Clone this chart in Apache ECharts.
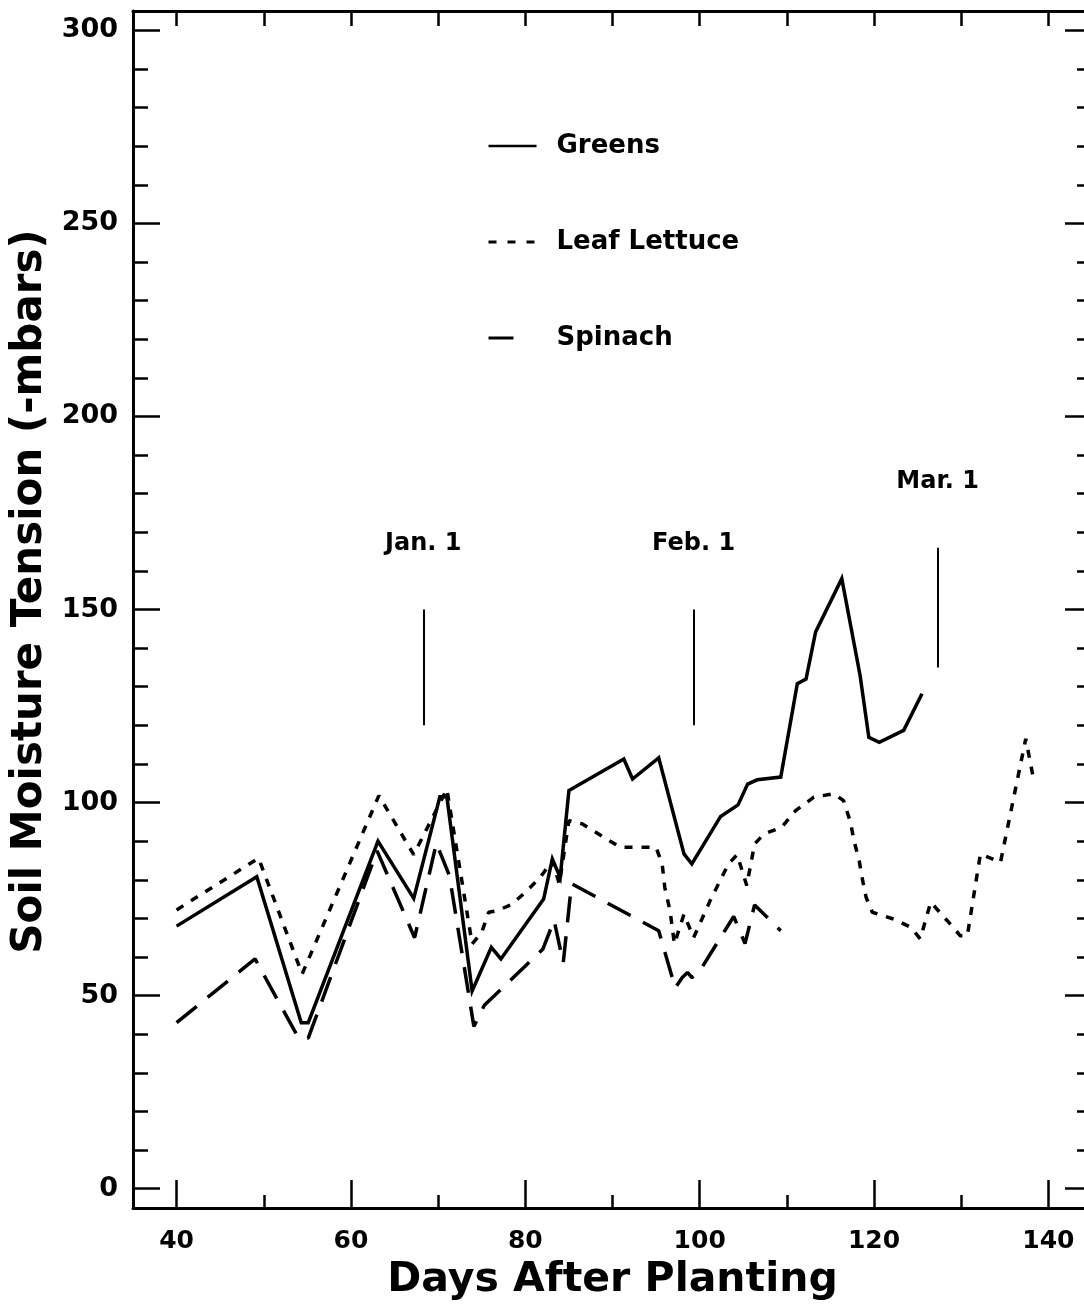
<!DOCTYPE html>
<html>
<head>
<meta charset="utf-8">
<script src="https://cdn.jsdelivr.net/npm/echarts@6/dist/echarts.min.js"></script>
<style>
html,body{margin:0;padding:0;background:#fff;overflow:hidden;}
#chart{width:1100px;height:1311px;}
</style>
</head>
<body>
<div id="chart"></div>
<script>
// ---- Data (day after planting, soil moisture tension -mbars) ----
const greens = [
  [40, 68], [49.2, 80.8], [54.3, 43], [55.1, 43], [63.1, 90], [67.2, 75.2],
  [70.2, 101.5], [71, 101.5], [73.9, 51.2], [76.1, 62.5], [77.2, 59.5],
  [82.1, 75], [83.1, 85.4], [84.0, 80.6], [85.0, 103.1], [91.3, 111.3],
  [92.3, 106.1], [95.3, 111.6], [98.2, 86.7], [99.1, 84.1], [102.4, 96.4],
  [104.4, 99.4], [105.5, 104.8], [106.6, 105.9], [109.3, 106.6], [111.2, 130.8],
  [112.2, 132], [113.3, 144.2], [116.3, 158], [118.4, 132.9], [119.4, 116.9],
  [120.6, 115.6], [123.4, 118.7], [125.5, 128.2]
];
const leafLettuce = [
  [40, 72.2], [49.4, 85.6], [54.4, 55.6], [63.2, 101.8], [67.2, 86.5], [71, 103.5],
  [73.9, 63.4], [75, 66.4], [75.8, 71.6], [76.8, 72], [78.5, 73.7], [80.2, 77.2],
  [81.7, 80.6], [83.1, 85], [83.9, 78.9], [85, 95.3], [86.5, 94.5], [90.9, 88.4],
  [95, 88.4], [95.7, 84], [96.0, 78], [96.6, 72], [97.1, 63.4], [98.2, 71.1],
  [99.3, 65], [101.2, 74.6], [103.3, 84.1], [104.3, 86.5], [105.4, 78.5],
  [106.3, 89.3], [107.4, 91.9], [109.4, 93.6], [111, 97.9], [113.1, 101.4],
  [115.4, 102.3], [116.5, 100.5], [117.3, 94.9], [117.7, 90.1], [118.3, 84.9],
  [118.7, 79.7], [119.1, 75.4], [119.8, 71.6], [122.3, 69.8], [124.2, 67.7],
  [125.3, 64.7], [126.5, 74.2], [128.4, 69.4], [129.9, 65.5], [130.7, 65.5],
  [132.2, 86.7], [134.5, 84.5], [137.4, 116.5], [138.3, 106]
];
const spinach = [
  [40, 43], [49, 59.5], [54, 39], [55.1, 39], [63, 87.5], [67.3, 65],
  [69.8, 89.5], [71.3, 81], [74.1, 42], [75.3, 47.5], [82, 62], [83.3, 69.5],
  [84.35, 58.5], [85.3, 79], [95.3, 66.8], [97.2, 52], [98, 54.7], [98.6, 56],
  [99.1, 54.7], [99.9, 56], [103.9, 70.5], [105.2, 63.5], [106.3, 73.5], [109.3, 66.8]
];
// Date markers: [day, lineStart, lineEnd, labelY, label]
const dateMarks = [
  [68.3, 120, 150, 167, 'Jan. 1'],
  [99.3, 120, 150, 167, 'Feb. 1'],
  [127.3, 135, 166, 183, 'Mar. 1']
];
const xMajorTicks = [40, 60, 80, 100, 120, 140];
const xMinorTicks = [50, 70, 90, 110, 130];
const xTopTicks = [40, 50, 60, 70, 80, 90, 100, 110, 120, 130, 140];
const yMajorTicks = [0, 50, 100, 150, 200, 250, 300];
const yMinorTicks = [10, 20, 30, 40, 60, 70, 80, 90, 110, 120, 130, 140, 160, 170, 180, 190,
                     210, 220, 230, 240, 260, 270, 280, 290];

const FONT = 'DejaVu Sans';
const chart = echarts.init(document.getElementById('chart'), null, {renderer: 'canvas'});

const baseX = {type: 'value', min: 35, max: 145, gridIndex: 0, splitLine: {show: false}};
const baseY = {type: 'value', min: -5, max: 305, gridIndex: 0, splitLine: {show: false}};
const frameLine = {show: true, onZero: false, lineStyle: {color: '#000', width: 3}};
const noLine = {show: false, onZero: false};

const option = {
  backgroundColor: '#fff',
  animation: false,
  grid: {left: 133, top: 11, width: 959, height: 1197, containLabel: false},
  legend: {
    orient: 'vertical',
    left: 482, top: 126,
    itemWidth: 48, itemHeight: 14, itemGap: 66,
    textStyle: {fontFamily: FONT, fontWeight: 'bold', fontSize: 26, color: '#000', lineHeight: 30, padding: [0, 0, 0, 15]},
    itemStyle: {color: 'transparent', borderWidth: 0, opacity: 0},
    data: [
      {name: 'Greens', lineStyle: {width: 2.5, type: 'solid', color: '#000'}},
      {name: 'Leaf Lettuce', lineStyle: {width: 3, type: [8, 11], color: '#000'}},
      {name: 'Spinach', lineStyle: {width: 3, type: [25, 40], color: '#000'}}
    ]
  },
  xAxis: [
    Object.assign({}, baseX, {
      position: 'bottom',
      axisLine: frameLine,
      axisTick: {show: true, inside: true, length: 28, customValues: xMajorTicks, lineStyle: {color: '#000', width: 2.5}},
      axisLabel: {show: true, customValues: xMajorTicks, margin: 21, fontFamily: FONT, fontWeight: 'bold', fontSize: 25, color: '#000'},
      name: 'Days After Planting', nameLocation: 'middle', nameGap: 52,
      nameTextStyle: {fontFamily: FONT, fontWeight: 'bold', fontSize: 41, color: '#000'}
    }),
    Object.assign({}, baseX, {
      position: 'bottom',
      axisLine: noLine,
      axisTick: {show: true, inside: true, length: 13, customValues: xMinorTicks, lineStyle: {color: '#000', width: 2.5}},
      axisLabel: {show: false}
    }),
    Object.assign({}, baseX, {
      position: 'top',
      axisLine: frameLine,
      axisTick: {show: true, inside: true, length: 15, customValues: xTopTicks, lineStyle: {color: '#000', width: 2.5}},
      axisLabel: {show: false}
    })
  ],
  yAxis: [
    Object.assign({}, baseY, {
      position: 'left',
      axisLine: frameLine,
      axisTick: {show: true, inside: true, length: 27, customValues: yMajorTicks, lineStyle: {color: '#000', width: 2.5}},
      axisLabel: {show: true, customValues: yMajorTicks, margin: 15, fontFamily: FONT, fontWeight: 'bold', fontSize: 27, color: '#000'},
      name: 'Soil Moisture Tension (-mbars)', nameLocation: 'middle', nameGap: 67,
      nameTextStyle: {fontFamily: FONT, fontWeight: 'bold', fontSize: 42, color: '#000', padding: [0, 0, 0, 36]}
    }),
    Object.assign({}, baseY, {
      position: 'left',
      axisLine: noLine,
      axisTick: {show: true, inside: true, length: 15, customValues: yMinorTicks, lineStyle: {color: '#000', width: 2.5}},
      axisLabel: {show: false}
    }),
    Object.assign({}, baseY, {
      position: 'right',
      axisLine: {show: false, onZero: false},
      axisTick: {show: true, inside: true, length: 27, customValues: yMajorTicks, lineStyle: {color: '#000', width: 2.5}},
      axisLabel: {show: false}
    }),
    Object.assign({}, baseY, {
      position: 'right',
      axisLine: noLine,
      axisTick: {show: true, inside: true, length: 15, customValues: yMinorTicks, lineStyle: {color: '#000', width: 2.5}},
      axisLabel: {show: false}
    })
  ],
  series: [
    {
      name: 'Greens', type: 'line', data: greens, xAxisIndex: 0, yAxisIndex: 0,
      symbol: 'none', lineStyle: {color: '#000', width: 3.5, type: 'solid', join: 'miter'},
      itemStyle: {color: '#000'}
    },
    {
      name: 'Leaf Lettuce', type: 'line', data: leafLettuce, xAxisIndex: 0, yAxisIndex: 0,
      symbol: 'none', lineStyle: {color: '#000', width: 3.5, type: [8, 9]},
      itemStyle: {color: '#000'}
    },
    {
      name: 'Spinach', type: 'line', data: spinach, xAxisIndex: 0, yAxisIndex: 0,
      symbol: 'none', lineStyle: {color: '#000', width: 3.5, type: [26, 14]},
      itemStyle: {color: '#000'}
    },
    {
      name: 'Dates', type: 'scatter', xAxisIndex: 0, yAxisIndex: 0,
      symbolSize: 0, silent: true,
      itemStyle: {color: '#000', opacity: 1},
      data: dateMarks.map(d => ({value: [d[0], d[3]], name: d[4]})),
      label: {show: true, position: 'inside', formatter: p => p.name,
              fontFamily: FONT, fontWeight: 'bold', fontSize: 24, color: '#000', opacity: 1},
      markLine: {
        silent: true, symbol: 'none', animation: false,
        label: {show: false},
        lineStyle: {color: '#000', width: 2, type: 'solid', opacity: 1},
        data: dateMarks.map(d => [{coord: [d[0], d[1]]}, {coord: [d[0], d[2]]}])
      }
    }
  ]
};
chart.setOption(option);
</script>
</body>
</html>
